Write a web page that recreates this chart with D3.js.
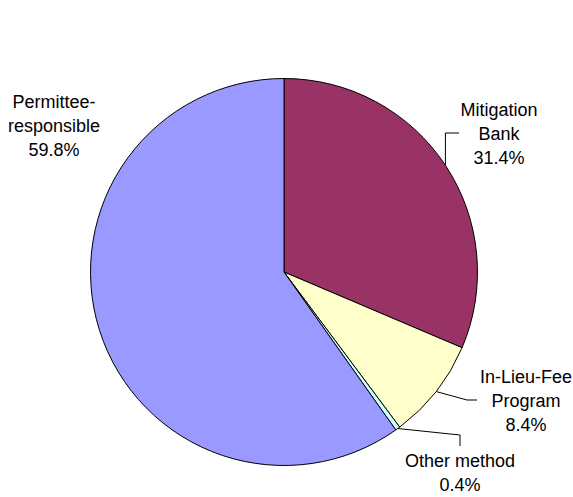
<!DOCTYPE html>
<html>
<head>
<meta charset="utf-8">
<script src="https://cdn.jsdelivr.net/npm/d3@7"></script>
<style>
html,body{margin:0;padding:0;background:#fff;}
svg{display:block;}
text{font-family:"Liberation Sans",Arial,sans-serif;font-size:18px;fill:#000;}
</style>
</head>
<body>
<svg id="chart" width="573" height="497"></svg>
<script>
const categories = ["Mitigation Bank", "In-Lieu-Fee Program", "Other method", "Permittee-responsible"];
const values = [31.4, 8.4, 0.4, 59.8];
const labelLines = [["Mitigation", "Bank", "31.4%"], ["In-Lieu-Fee", "Program", "8.4%"], ["Other method", "0.4%"], ["Permittee-", "responsible", "59.8%"]];
const colors = ["#993366", "#FFFFCC", "#CCFFFF", "#9999FF"];

const svg = d3.select("#chart");
const cx = 284, cy = 272, r = 193.5;
const g = svg.append("g").attr("transform", `translate(${cx},${cy})`);

const pie = d3.pie().sort(null).value(d => d)(values);
const arc = d3.arc().innerRadius(0).outerRadius(r);
const color = d3.scaleOrdinal().domain(categories).range(colors);

g.selectAll("path.slice").data(pie).join("path")
  .attr("class", "slice")
  .attr("d", arc)
  .attr("fill", (d, i) => color(categories[i]))
  .attr("stroke", "#000")
  .attr("stroke-width", 1)
  .attr("stroke-linejoin", "round");

// label placement (absolute page coordinates): center x, first baseline y
const labelPos = [
  {x: 499, y: 116},
  {x: 526, y: 383},
  {x: 460, y: 467},
  {x: 54, y: 108}
];
const lineH = 24;

svg.selectAll("text.lbl").data(labelLines).join("text")
  .attr("class", "lbl")
  .attr("text-anchor", "middle")
  .each(function(lines, i) {
    const t = d3.select(this);
    lines.forEach((s, k) => {
      t.append("tspan").attr("x", labelPos[i].x).attr("y", labelPos[i].y + k * lineH).text(s);
    });
  });

// leader lines from arc edge
function edgePoint(d) {
  const a = (d.startAngle + d.endAngle) / 2;
  return [cx + r * Math.sin(a), cy - r * Math.cos(a)];
}
const leaders = [
  {i: 0, pts: p => [p, [p[0], 133], [459, 133]]},
  {i: 1, pts: p => [p, [467, 400], [477, 400]]},
  {i: 2, pts: p => [p, [460, 435], [460, 446]]}
];
svg.selectAll("path.leader").data(leaders).join("path")
  .attr("class", "leader")
  .attr("fill", "none")
  .attr("stroke", "#000")
  .attr("stroke-width", 1)
  .attr("d", d => d3.line()(d.pts(edgePoint(pie[d.i]))));
</script>
</body>
</html>
